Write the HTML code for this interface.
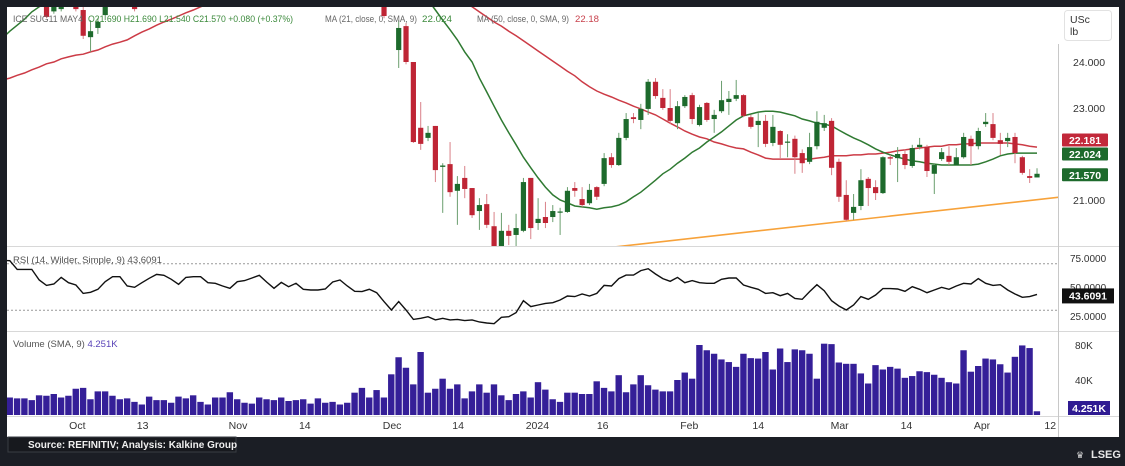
<!DOCTYPE html>
<html><head><meta charset="utf-8">
<style>
html,body{margin:0;padding:0;background:#1b1e25;}
body{width:1125px;height:461px;overflow:hidden;position:relative;font-family:"Liberation Sans",sans-serif;}
svg text{font-family:"Liberation Sans",sans-serif;}
</style></head>
<body>
<svg id="chart" width="1125" height="461" viewBox="0 0 1125 461" xmlns="http://www.w3.org/2000/svg">
  <rect x="0" y="0" width="1125" height="461" fill="#1b1e25"/>
  <rect x="7" y="7" width="1112" height="430" fill="#ffffff"/>
  <defs>
    <clipPath id="cpPrice"><rect x="7" y="7" width="1051" height="239"/></clipPath>
    <clipPath id="cpRsi"><rect x="7" y="247" width="1051" height="84"/></clipPath>
    <clipPath id="cpVol"><rect x="7" y="332" width="1051" height="84"/></clipPath>
  </defs>
  <g id="gPrice" clip-path="url(#cpPrice)"></g>
  <g id="gRsi" clip-path="url(#cpRsi)"></g>
  <g id="gVol" clip-path="url(#cpVol)"></g>
  <g id="gAxis"></g>
  <line x1="7" y1="246.5" x2="1119" y2="246.5" stroke="#d8d8d8"/>
  <line x1="7" y1="331.5" x2="1119" y2="331.5" stroke="#d8d8d8"/>
  <line x1="7" y1="416.5" x2="1119" y2="416.5" stroke="#d8d8d8"/>
  <line x1="1058.5" y1="44" x2="1058.5" y2="437" stroke="#c8c8c8"/>
  <rect x="1064.5" y="10.5" width="47" height="30" rx="3" fill="#fff" stroke="#e2e2e2"/>
  <text x="1070" y="23" font-size="10.5" fill="#333">USc</text>
  <text x="1070" y="35" font-size="10.5" fill="#333">lb</text>
  <text x="13" y="22" font-size="9.5" fill="#666" textLength="70" lengthAdjust="spacingAndGlyphs">ICE SUG11 MAY4</text>
  <text x="88" y="22" font-size="9.5" fill="#3c8a3c" textLength="205" lengthAdjust="spacingAndGlyphs">O21.690  H21.690  L21.540  C21.570  +0.080 (+0.37%)</text>
  <text x="325" y="22" font-size="9.5" fill="#666" textLength="92" lengthAdjust="spacingAndGlyphs">MA (21, close, 0, SMA, 9)</text>
  <text x="422" y="22" font-size="9.5" fill="#3c8a3c" textLength="30" lengthAdjust="spacingAndGlyphs">22.024</text>
  <text x="477" y="22" font-size="9.5" fill="#666" textLength="92" lengthAdjust="spacingAndGlyphs">MA (50, close, 0, SMA, 9)</text>
  <text x="575" y="22" font-size="9.5" fill="#c8414c" textLength="24" lengthAdjust="spacingAndGlyphs">22.18</text>
  <text x="13" y="263" font-size="9.5" fill="#555">RSI (14, Wilder, Simple, 9)  43.6091</text>
  <text x="13" y="347" font-size="9.5" fill="#555">Volume (SMA, 9)  <tspan fill="#5a44b8">4.251K</tspan></text>
  <rect x="8" y="437" width="228" height="15" fill="#17191e" stroke="#3a3d44"/>
  <text x="28" y="448" font-size="10" font-weight="bold" fill="#f0f0f0">Source: REFINITIV; Analysis: Kalkine Group</text>
  <text x="1076" y="458" font-size="9" fill="#ddd">♛</text>
  <text x="1091" y="458" font-size="11" font-weight="bold" fill="#e8e8e8">LSEG</text>
</svg>
<script>
const opens=[26.0,26.1,25.9,26.2,26.0,25.8,25.3,25.1,25.15,25.7,25.2,25.13,24.54,24.74,25.02,25.9,26.0,25.8,25.5,25.9,26.1,26.3,26.2,26.4,26.5,26.3,26.6,26.8,26.7,26.9,27.0,26.8,26.6,26.7,26.9,27.1,27.0,26.8,26.9,27.2,27.3,27.1,26.9,27.0,26.8,26.7,26.5,26.6,26.4,26.2,26.0,25.9,25.6,25.9,24.26,24.78,24.0,22.57,22.35,22.61,21.72,21.78,21.20,21.48,21.26,20.76,20.91,20.43,19.95,20.33,20.24,20.33,21.48,20.50,20.63,20.63,20.74,20.74,21.26,21.02,20.93,21.28,21.35,21.93,21.76,22.35,22.80,22.74,22.98,23.57,23.22,23.0,22.67,23.04,23.28,22.63,23.11,22.76,22.93,23.13,23.2,23.28,22.8,22.63,22.72,22.24,22.5,22.25,22.33,22.02,21.83,22.17,22.57,22.72,21.83,21.11,20.72,20.87,21.46,21.28,21.15,21.93,21.91,22.0,21.74,22.15,22.15,21.57,21.89,21.96,21.76,21.93,22.33,22.17,22.65,22.65,22.3,22.28,22.37,21.93,21.52,21.49];
const highs=[26.3,26.3,26.2,26.4,26.2,26.0,25.4,25.4,25.4,25.9,25.4,25.2,24.91,24.96,25.6,26.1,26.2,26.0,25.6,26.1,26.3,26.5,26.4,26.6,26.7,26.6,26.8,27.0,26.9,27.1,27.2,27.0,26.8,26.9,27.1,27.3,27.2,27.0,27.1,27.4,27.5,27.3,27.1,27.2,27.0,26.9,26.7,26.8,26.6,26.4,26.2,26.1,25.8,26.1,24.91,24.85,24.0,23.13,22.61,22.61,21.80,22.26,21.52,21.74,21.26,21.04,21.13,20.74,20.72,20.46,20.70,21.48,21.48,21.04,20.96,20.89,20.83,21.28,21.39,21.28,21.35,21.30,22.02,22.02,22.46,22.89,22.89,23.09,23.63,23.65,23.41,23.41,23.15,23.28,23.33,23.07,23.13,22.96,23.59,23.37,23.61,23.3,22.85,22.89,22.85,22.85,22.52,22.43,22.4,22.1,22.46,22.93,22.85,22.78,21.9,21.43,21.13,21.67,21.5,21.43,21.95,21.98,22.15,22.1,22.2,22.35,22.2,21.8,22.13,22.17,22.13,22.46,22.4,22.57,22.89,22.89,22.46,22.46,22.46,21.96,21.67,21.69];
const lows=[25.8,25.9,25.7,25.9,25.8,25.5,24.95,25.05,25.1,25.5,25.1,24.5,24.22,24.61,24.91,25.7,25.8,25.6,25.1,25.7,25.9,26.1,26.0,26.2,26.3,26.1,26.4,26.6,26.5,26.7,26.8,26.6,26.4,26.5,26.7,26.9,26.8,26.6,26.7,27.0,27.1,26.9,26.7,26.8,26.6,26.5,26.3,26.4,26.2,26.0,25.8,25.7,24.95,25.5,23.87,23.95,22.24,22.09,22.28,21.39,20.72,21.07,20.46,21.04,20.61,20.35,20.39,19.85,19.85,20.02,20.0,20.30,20.15,20.35,20.39,20.52,20.24,20.72,21.07,20.85,20.89,21.00,21.30,21.70,21.74,22.30,22.67,22.54,22.85,23.2,22.96,22.65,22.54,23.0,22.65,22.6,22.7,22.46,22.89,22.85,23.15,22.8,22.55,22.15,22.15,22.17,21.89,21.93,21.57,21.59,21.78,22.1,22.5,21.54,20.96,20.54,20.57,20.78,20.87,21.0,21.13,21.76,21.39,21.67,21.7,22.1,21.5,21.13,21.85,21.76,21.74,21.9,21.76,22.1,22.59,22.3,21.98,22.15,21.8,21.55,21.37,21.54];
const closes=[26.2,25.95,26.1,26.05,25.85,25.6,24.98,25.3,25.2,25.75,25.15,24.57,24.67,24.87,25.5,26.0,25.85,25.55,25.15,26.0,26.2,26.4,26.35,26.5,26.35,26.55,26.75,26.75,26.85,26.95,26.85,26.65,26.7,26.85,27.05,27.05,26.85,26.85,27.15,27.25,27.15,26.95,26.95,26.85,26.75,26.55,26.55,26.45,26.25,26.05,25.95,25.65,25.0,25.6,24.74,24.0,22.26,22.22,22.46,21.65,21.75,21.17,21.35,21.24,20.67,20.89,20.46,19.9,20.33,20.22,20.39,21.39,20.39,20.59,20.50,20.76,20.75,21.20,21.20,20.89,21.22,21.07,21.91,21.76,22.35,22.76,22.76,22.98,23.57,23.26,23.0,22.72,23.04,23.24,22.76,23.02,22.74,22.85,23.17,23.2,23.28,22.83,22.59,22.72,22.22,22.59,22.2,22.27,21.93,21.8,22.15,22.7,22.67,21.7,21.07,20.57,20.85,21.43,21.26,21.15,21.93,21.9,22.0,21.76,22.13,22.2,21.63,21.76,22.04,21.83,21.93,22.37,22.17,22.5,22.7,22.35,22.22,22.35,22.02,21.59,21.48,21.57];
const ma21=[24.52,24.67,24.80,24.93,25.09,25.20,25.30,25.45,25.55,25.62,25.70,25.75,25.80,25.85,25.92,26.0,26.05,26.1,26.15,26.2,26.25,26.3,26.35,26.4,26.45,26.5,26.55,26.6,26.62,26.65,26.68,26.7,26.72,26.74,26.76,26.78,26.8,26.82,26.84,26.86,26.86,26.84,26.8,26.75,26.7,26.6,26.5,26.3,26.1,25.9,25.75,25.62,25.55,25.5,25.48,25.45,25.42,25.38,25.35,25.13,24.91,24.70,24.48,24.22,24.0,23.65,23.35,23.04,22.74,22.46,22.20,21.93,21.70,21.48,21.28,21.11,21.0,20.94,20.87,20.85,20.83,20.80,20.83,20.85,20.89,20.96,21.07,21.17,21.30,21.43,21.57,21.67,21.80,21.91,22.04,22.13,22.26,22.37,22.48,22.61,22.74,22.83,22.87,22.91,22.93,22.93,22.91,22.87,22.83,22.76,22.72,22.67,22.65,22.61,22.52,22.43,22.35,22.28,22.2,22.11,22.04,21.98,21.93,21.89,21.85,21.83,21.80,21.78,21.76,21.76,21.76,21.76,21.76,21.78,21.83,21.89,21.96,22.0,22.02,22.02,22.02,22.02];
const ma50=[23.61,23.65,23.71,23.76,23.83,23.89,23.96,24.0,24.07,24.11,24.15,24.17,24.22,24.26,24.33,24.39,24.43,24.48,24.57,24.65,24.72,24.80,24.87,24.93,25.0,25.07,25.13,25.2,25.26,25.33,25.42,25.5,25.58,25.65,25.72,25.8,25.86,25.92,25.98,26.02,26.05,26.06,26.05,26.02,25.98,25.92,25.86,25.8,25.72,25.64,25.56,25.5,25.46,25.42,25.4,25.39,25.38,25.37,25.36,25.35,25.34,25.33,25.32,25.30,25.2,25.09,24.98,24.87,24.78,24.67,24.57,24.46,24.35,24.24,24.13,24.02,23.91,23.80,23.70,23.57,23.46,23.37,23.30,23.24,23.17,23.11,23.04,22.98,22.91,22.85,22.76,22.67,22.59,22.50,22.43,22.37,22.33,22.26,22.22,22.17,22.13,22.11,22.04,21.98,21.91,21.89,21.89,21.89,21.89,21.89,21.89,21.91,21.93,21.96,21.96,21.96,21.98,21.98,22.0,22.0,22.02,22.04,22.07,22.09,22.11,22.13,22.15,22.17,22.17,22.2,22.2,22.22,22.22,22.24,22.24,22.24,22.24,22.24,22.22,22.2,22.17,22.15];
const rsi=[73,72.7,65.2,65.2,65.2,56.0,51.4,52.6,58.3,53.7,51.7,44.5,45.4,48.0,54.6,58.9,58.9,50.9,49.7,53.7,57.5,60.9,60.1,56.6,52.3,58.3,58.9,58.9,53.7,53.2,50.9,48.9,54.6,55.5,57.8,60.1,54.3,48.9,54.0,50.3,53.2,48.0,47.4,47.4,48.3,54.3,56.0,50.9,46.3,46.0,48.0,45.1,37.4,30.2,37.4,30.2,22.1,23.0,24.4,21.6,23.0,21.6,22.1,21.0,21.6,19.8,19.0,18.4,23.9,24.4,27.9,38.2,33.1,34.5,35.9,36.5,38.8,42.2,41.7,44.0,42.2,44.5,51.4,50.9,57.2,60.3,60.3,64.1,65.8,61.2,57.2,54.9,58.3,53.7,55.5,53.7,53.2,53.2,56.6,57.8,57.8,51.7,49.7,48.0,44.5,45.1,42.5,44.5,40.2,39.4,46.0,52.0,46.8,38.2,33.6,30.2,34.5,41.7,39.4,43.1,48.6,48.6,48.3,46.3,50.3,48.0,45.1,47.4,49.7,48.0,50.9,53.2,52.6,57.2,53.2,51.4,52.0,47.4,44.0,41.1,41.7,43.6];
const volume=[21,20,19,19,17,22.5,22,24,20,22,30,31,18,27,27,22,18,19,15,12,21,17,17,14,21,19,22.5,15,12,20,20,26,18,14,13,20,18,17,20,16,17,18,13,19,14,15,12,14,25.5,31,20,28.5,20,46.5,66,54,35,72,25.5,30,41.5,30,35,19,27,35,25.5,35,22.5,17,24,27,20,37.5,29,18,15,25.5,25.5,24,24,38.5,31,27,45.5,26,35,45.5,34,29,27,27,40,48.5,41.5,80,74,70,63.5,60.5,55,70,65,64.5,72,52,76,60.5,75,74,70,41.5,81.5,81,60,58.5,58.5,47.5,36,57,52,55,53,42.5,44.5,50,49,46,42.5,37.5,36,74,49.5,56,64.5,63.5,58,48.5,66.5,79.5,76.5,4.251];
const trendIdx=[79,144.5];
const trendPrice=[19.9,21.07];
const priceTicks=[24,23,21];
const rsiTicks=[75,50,25];
const rsiBands=[70,30];
const volTicks=[80,40];
const xTickLabels=["Oct","13","Nov","14","Dec","14","2024","16","Feb","14","Mar","14","Apr","12"];
const xTickIdx=[10.2,19.1,32.1,41.2,53.1,62.1,72.9,81.8,93.6,103,114.1,123.2,133.5,142.8];
const lastClose=21.570, lastMa21=22.024, lastMa50=22.181, lastRsi=43.6091, lastVol=4.251;

const NS="http://www.w3.org/2000/svg";
const xOf=i=>2.5+7.337*i;
const yP=p=>62+(24-p)*46;
const yR=r=>316-(r-25)*1.16;
const yV=v=>415-v*35/40;
function mk(tag,attrs,parent){const e=document.createElementNS(NS,tag);for(const k in attrs)e.setAttribute(k,attrs[k]);parent.appendChild(e);return e;}
const gP=document.getElementById('gPrice'),gR=document.getElementById('gRsi'),gV=document.getElementById('gVol'),gA=document.getElementById('gAxis');

const tl=mk('line',{x1:xOf(trendIdx[0]),y1:yP(trendPrice[0]),x2:xOf(trendIdx[1]),y2:yP(trendPrice[1]),stroke:'#f7a23a','stroke-width':1.6},gP);



function linePath(arr,yf){return arr.map((v,i)=>(i?'L':'M')+xOf(i).toFixed(1)+' '+yf(v).toFixed(1)).join(' ');}
const m50=mk('path',{d:linePath(ma50,yP),fill:'none',stroke:'#cc3b46','stroke-width':1.5},gP);


const m21=mk('path',{d:linePath(ma21,yP),fill:'none',stroke:'#2f7a32','stroke-width':1.5},gP);



for(let i=0;i<opens.length;i++){
  const up=closes[i]>=opens[i];
  const body=up?'#1d6a2c':'#bf2535', wick=up?'#6a9e6e':'#d98088';
  const x=xOf(i);
  const w=mk('line',{x1:x,y1:yP(highs[i]),x2:x,y2:yP(lows[i]),stroke:wick,'stroke-width':1},gP);
  
  
  const top=yP(Math.max(opens[i],closes[i])),bot=yP(Math.min(opens[i],closes[i]));
  const b=mk('rect',{x:x-2.6,y:top,width:5.2,height:Math.max(1.2,bot-top),fill:body},gP);
  
  
}

rsiBands.forEach(r=>{
  const l=mk('line',{x1:7,y1:yR(r),x2:1058,y2:yR(r),stroke:'#999','stroke-dasharray':'2,2','stroke-width':1},gR);
  
  
});
const rl=mk('path',{d:linePath(rsi,yR),fill:'none',stroke:'#111','stroke-width':1.4},gR);



for(let i=0;i<volume.length;i++){
  const x=xOf(i);
  const r=mk('rect',{x:x-3.3,y:yV(volume[i]),width:6.4,height:415-yV(volume[i]),fill:'#351f98'},gV);
  
  
}

function txt(s,x,y,attrs,name){const t=mk('text',Object.assign({x:x,y:y,'font-size':10.5,fill:'#333'},attrs||{}),gA);t.textContent=s;return t;}
priceTicks.forEach(p=>txt(p.toFixed(3),1073,yP(p)+4,{},'price-tick'));
rsiTicks.forEach(r=>txt(r.toFixed(4),1070,yR(r)+4,{'font-size':10},'rsi-tick'));
volTicks.forEach(v=>txt(v+'K',1075,yV(v)+4,{'font-size':10},'volume-tick'));
xTickLabels.forEach((s,k)=>txt(s,xOf(xTickIdx[k]),429,{'text-anchor':'middle','font-size':10.5},'x-tick'));

function tag(text,y,bg,name){
  const r=mk('rect',{x:1062,y:y-6.5,width:46,height:13,fill:bg,rx:1},gA);
  
  
  txt(text,1085,y+4,{'text-anchor':'middle',fill:'#fff','font-size':10.5,'font-weight':'bold'},name+'-text');
}
tag(lastMa50.toFixed(3),140,'#c2283a','ma50-tag');
tag(lastMa21.toFixed(3),154,'#1d6a2c','ma21-tag');
tag(lastClose.toFixed(3),yP(lastClose)+1,'#1d6a2c','close-tag');
const rt=mk('rect',{x:1062,y:yR(lastRsi)-6,width:52,height:15,fill:'#111'},gA);


txt(lastRsi.toFixed(4),1088,yR(lastRsi)+5,{'text-anchor':'middle',fill:'#fff','font-size':10.5,'font-weight':'bold'},'rsi-tag-text');
const vt=mk('rect',{x:1068,y:401,width:42,height:14,fill:'#2f1b92'},gA);


txt(lastVol.toFixed(3)+'K',1089,412,{'text-anchor':'middle',fill:'#fff','font-size':10.5,'font-weight':'bold'},'volume-tag-text');
</script>
</body></html>
